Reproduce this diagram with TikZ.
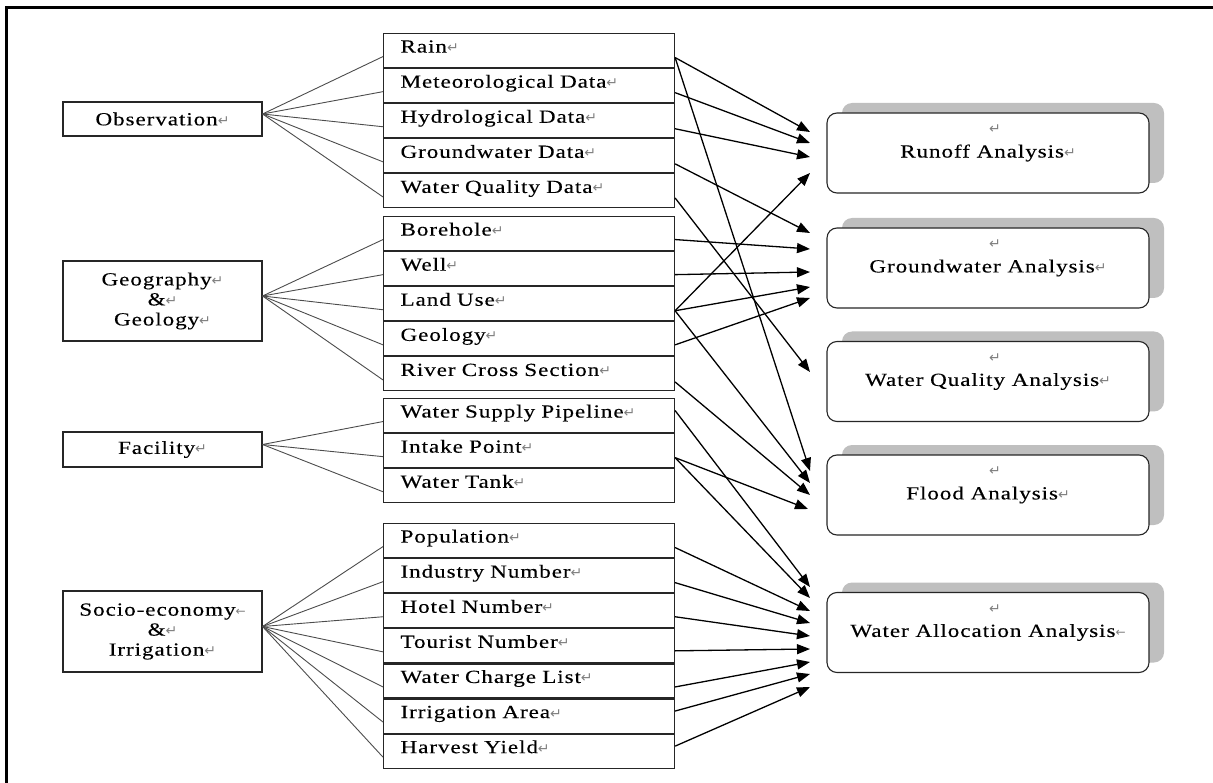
\documentclass[tikz,border=0pt]{standalone}
\usepackage{fontspec}
\setmainfont{Liberation Serif}[FakeStretch=1.25,LetterSpace=5,FakeBold=0.2]
\newfontfamily\markfont{DejaVu Sans}
\usetikzlibrary{arrows.meta,shadows}
% paragraph and line-break marks, set small and grey
\newcommand\pmark{{\markfont\fontsize{14}{14}\selectfont\textcolor{gray}{↵}}}
\newcommand\lmark{{\markfont\fontsize{12}{12}\selectfont\textcolor{gray}{←}}}

\begin{document}
\begin{tikzpicture}[x=1pt,y=-1pt,
  every node/.style={font=\fontsize{18.5}{20}\selectfont},
  srcbox/.style={draw=black!85, line width=1.1pt, minimum width=199pt, inner sep=0pt, align=center},
  rowbox/.style={draw=black!85, line width=1.1pt, anchor=north west, minimum height=34pt,
    text width=257pt, inner xsep=17pt, inner ysep=0pt, text height=12pt, text depth=8pt, align=left},
  anabox/.style={draw=black!85, fill=white, line width=1.1pt, rounded corners=10pt,
    minimum width=322pt, minimum height=80pt,
    drop shadow={shadow xshift=15pt, shadow yshift=10pt, fill=black!25, opacity=1}},
  markonly/.style={inner sep=0pt},
  feed/.style={draw=black!70, line width=0.9pt},
  flow/.style={draw=black, line width=1.3pt, -{Triangle[length=13pt,width=10pt]}}]

\useasboundingbox (0,0) rectangle (1213,783);
\draw[line width=3pt] (6.5,783) -- (6.5,7.5) -- (1213,7.5);

% data sources
\node[srcbox, minimum height=34pt] (obs) at (162.5,119) {Observation\pmark};
\node[srcbox, minimum height=80pt] (geo) at (162.5,301) {Geography\pmark\\\&\pmark\\Geology\pmark};
\node[srcbox, minimum height=35pt] (fac) at (162.5,449.5) {Facility\pmark};
\node[srcbox, minimum height=81pt] (soc) at (162.5,631.5) {Socio-economy\lmark\\\&\pmark\\Irrigation\pmark};

% data items
\node[rowbox] (rain)  at (383,33) {Rain\pmark};
\node[rowbox] (met)   at (rain.south west) {Meteorological Data\pmark};
\node[rowbox] (hydro) at (met.south west) {Hydrological Data\pmark};
\node[rowbox] (gwd)   at (hydro.south west) {Groundwater Data\pmark};
\node[rowbox] (wqd)   at (gwd.south west) {Water Quality Data\pmark};

\node[rowbox] (bore)  at (383,216) {Borehole\pmark};
\node[rowbox] (well)  at (bore.south west) {Well\pmark};
\node[rowbox] (land)  at (well.south west) {Land Use\pmark};
\node[rowbox] (geol)  at (land.south west) {Geology\pmark};
\node[rowbox] (river) at (geol.south west) {River Cross Section\pmark};

\node[rowbox] (pipe)   at (383,398) {Water Supply Pipeline\pmark};
\node[rowbox] (intake) at (pipe.south west) {Intake Point\pmark};
\node[rowbox] (tank)   at (intake.south west) {Water Tank\pmark};

\node[rowbox] (pop)    at (383,523) {Population\pmark};
\node[rowbox] (ind)    at (pop.south west) {Industry Number\pmark};
\node[rowbox] (hotel)  at (ind.south west) {Hotel Number\pmark};
\node[rowbox] (tour)   at (hotel.south west) {Tourist Number\pmark};
\node[rowbox] (charge) at (tour.south west) {Water Charge List\pmark};
\node[rowbox] (irrig)  at (charge.south west) {Irrigation Area\pmark};
\node[rowbox] (harv)   at (irrig.south west) {Harvest Yield\pmark};

% analyses
\node[anabox] (runoff) at (988,153)   {Runoff Analysis\pmark};
\node[anabox] (gwa)    at (988,268)   {Groundwater Analysis\pmark};
\node[anabox] (wqa)    at (988,381.5) {Water Quality Analysis\pmark};
\node[anabox] (flood)  at (988,495)   {Flood Analysis\pmark};
\node[anabox] (alloc)  at (988,632.5) {Water Allocation Analysis\lmark};
\foreach \b in {runoff,gwa,wqa,flood,alloc}
  \node[markonly] (\b-m) at ([xshift=7pt,yshift=-17pt]\b.north) {\pmark};

% arrow tips in front of the analyses
\coordinate (r1) at (810,132);
\coordinate (r2) at (810,143);
\coordinate (r3) at (810,157);
\coordinate (r4) at (810,173);
\coordinate (g1) at (810,233);
\coordinate (g2) at (810,249);
\coordinate (g3) at (810,272);
\coordinate (g4) at (810,287);
\coordinate (g5) at (810,298);
\coordinate (q1) at (810,372);
\coordinate (f1) at (810,471);
\coordinate (f2) at (810,483);
\coordinate (f3) at (810,495);
\coordinate (f4) at (808,509);
\coordinate (a1) at (810,587);
\coordinate (a2) at (810,598);
\coordinate (a3) at (810,611);
\coordinate (a4) at (810,623);
\coordinate (a5) at (810,636);
\coordinate (a6) at (810,649);
\coordinate (a7) at (810,662);
\coordinate (a8) at (810,674);
\coordinate (a9) at (810,687);

% sources to items
\foreach \r in {rain,met,hydro,gwd,wqd}
  \draw[feed] ([yshift=5pt]obs.east) -- ([yshift=-6pt]\r.west);
\foreach \r in {bore,well,land,geol,river}
  \draw[feed] ([yshift=5pt]geo.east) -- ([yshift=-6pt]\r.west);
\foreach \r in {pipe,intake,tank}
  \draw[feed] ([yshift=5pt]fac.east) -- ([yshift=-6pt]\r.west);
\foreach \r in {pop,ind,hotel,tour,charge,irrig,harv}
  \draw[feed] ([yshift=5pt]soc.east) -- ([yshift=-6pt]\r.west);

% items to analyses
\draw[flow] ([yshift=-7pt]rain.east) -- (r1);
\draw[flow] ([yshift=-7pt]rain.east) -- (f1);
\draw[flow] ([yshift=-7pt]met.east) -- (r2);
\draw[flow] ([yshift=-8pt]hydro.east) -- (r3);
\draw[flow] ([yshift=-8pt]gwd.east) -- (g1);
\draw[flow] ([yshift=-7pt]wqd.east) -- (q1);
\draw[flow] ([yshift=-6pt]bore.east) -- (g2);
\draw[flow] ([yshift=-6pt]well.east) -- (g3);
\draw[flow] ([yshift=-7pt]land.east) -- (r4);
\draw[flow] ([yshift=-7pt]land.east) -- (g4);
\draw[flow] ([yshift=-7pt]land.east) -- (f2);
\draw[flow] ([yshift=-6pt]geol.east) -- (g5);
\draw[flow] ([yshift=-8pt]river.east) -- (f3);
\draw[flow] ([yshift=5pt]pipe.east) -- (a1);
\draw[flow] ([yshift=-7pt]intake.east) -- (f4);
\draw[flow] ([yshift=-7pt]intake.east) -- (a2);
\draw[flow] ([yshift=-7pt]pop.east) -- (a3);
\draw[flow] ([yshift=-7pt]ind.east) -- (a4);
\draw[flow] ([yshift=-6pt]hotel.east) -- (a5);
\draw[flow] ([yshift=-5pt]tour.east) -- (a6);
\draw[flow] ([yshift=-6pt]charge.east) -- (a7);
\draw[flow] ([yshift=5pt]irrig.east) -- (a8);
\draw[flow] ([yshift=5pt]harv.east) -- (a9);
\end{tikzpicture}
\end{document}
